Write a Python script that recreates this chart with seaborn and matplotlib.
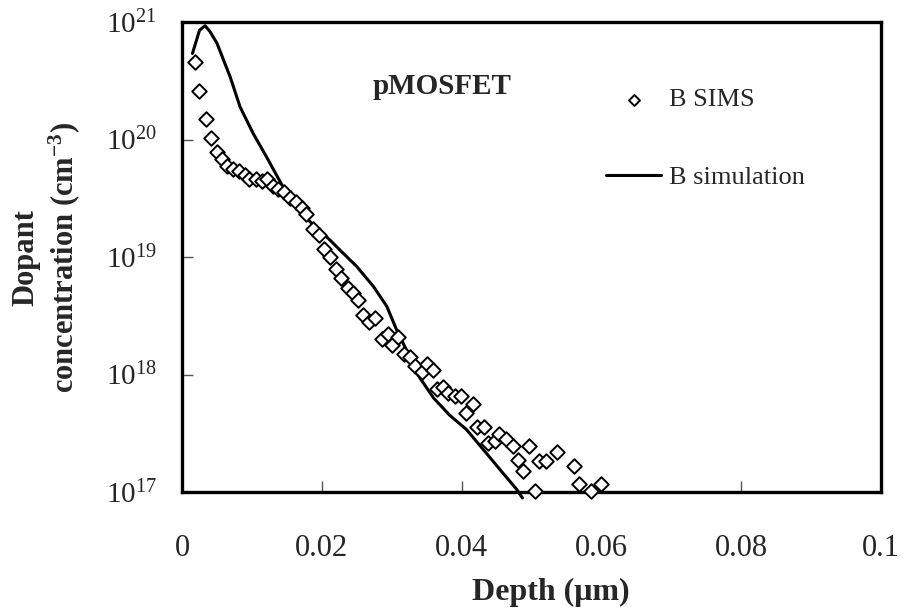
import matplotlib
matplotlib.use("Agg")
import matplotlib.pyplot as plt
import seaborn as sns
import pandas as pd
from matplotlib.ticker import FixedLocator, FixedFormatter

# ---- data ----
sims_depth = [0.0018, 0.0025, 0.0034, 0.0041, 0.0050, 0.0057, 0.0065, 0.0073, 0.0081, 0.0090,
              0.0096, 0.0106, 0.0114, 0.0122, 0.0130, 0.0138, 0.0146, 0.0155, 0.0163, 0.0171,
              0.0178, 0.0187, 0.0196, 0.0203, 0.0212, 0.0220, 0.0228, 0.0237, 0.0245, 0.0252,
              0.0259, 0.0267, 0.0276, 0.0286, 0.0294, 0.0301, 0.0309, 0.0317, 0.0326, 0.0333,
              0.0343, 0.0351, 0.0359, 0.0365, 0.0374, 0.0381, 0.0391, 0.0399, 0.0406, 0.0416,
              0.0422, 0.0432, 0.0438, 0.0448, 0.0454, 0.0464, 0.0473, 0.0481, 0.0488, 0.0497,
              0.0505, 0.0511, 0.0521, 0.0537, 0.0561, 0.0568, 0.0585, 0.0600]
sims_conc = [4.6e20, 2.6e20, 1.5e20, 1.02e20, 7.9e19, 6.8e19, 6.0e19, 5.6e19, 5.4e19, 5.0e19,
             4.6e19, 4.6e19, 4.4e19, 4.6e19, 4.0e19, 3.8e19, 3.6e19, 3.2e19, 2.95e19, 2.6e19,
             2.3e19, 1.74e19, 1.55e19, 1.17e19, 1.0e19, 7.9e18, 6.6e18, 5.5e18, 4.9e18, 4.3e18,
             3.2e18, 2.8e18, 3.0e18, 2.0e18, 2.2e18, 1.78e18, 2.1e18, 1.48e18, 1.41e18, 1.17e18,
             1.05e18, 1.23e18, 1.10e18, 7.6e17, 7.8e17, 6.9e17, 6.5e17, 6.5e17, 4.7e17, 5.6e17,
             3.6e17, 3.6e17, 2.6e17, 2.7e17, 3.1e17, 2.8e17, 2.45e17, 1.86e17, 1.51e17, 2.45e17,
             1.02e17, 1.82e17, 1.82e17, 2.2e17, 1.66e17, 1.17e17, 1.02e17, 1.17e17]

sim_depth = [0.0015, 0.0025, 0.0033, 0.0040, 0.0050, 0.0069, 0.0083, 0.0102, 0.0121, 0.0143,
             0.0164, 0.0183, 0.0202, 0.0214, 0.0231, 0.0250, 0.0274, 0.0293, 0.0307, 0.0321,
             0.0336, 0.0360, 0.0383, 0.0407, 0.0431, 0.0455, 0.0479, 0.0487]
sim_conc = [5.4e20, 8.5e20, 9.3e20, 8.3e20, 6.6e20, 3.4e20, 1.9e20, 1.12e20, 7.1e19, 4.1e19,
            2.9e19, 2.0e19, 1.58e19, 1.35e19, 1.07e19, 8.3e18, 5.6e18, 3.8e18, 2.4e18, 1.62e18,
            1.02e18, 6.3e17, 4.5e17, 3.4e17, 2.3e17, 1.55e17, 1.05e17, 8.9e16]

x_ticks = [0, 0.02, 0.04, 0.06, 0.08, 0.1]
x_tick_labels = ["0", "0.02", "0.04", "0.06", "0.08", "0.1"]
y_ticks = [1e17, 1e18, 1e19, 1e20, 1e21]
y_tick_labels = [r"$\mathregular{10^{17}}$", r"$\mathregular{10^{18}}$", r"$\mathregular{10^{19}}$",
                 r"$\mathregular{10^{20}}$", r"$\mathregular{10^{21}}$"]

sims_df = pd.DataFrame({"depth": sims_depth, "conc": sims_conc})
sim_df = pd.DataFrame({"depth": sim_depth, "conc": sim_conc})

sns.set_style("ticks")
plt.rcParams["font.family"] = ["Liberation Serif", "DejaVu Serif"]
plt.rcParams["mathtext.fontset"] = "custom"
plt.rcParams["mathtext.rm"] = "Liberation Serif"
plt.rcParams["mathtext.it"] = "Liberation Serif:italic"
plt.rcParams["mathtext.bf"] = "Liberation Serif:bold"

fig = plt.figure(figsize=(9.09, 6.12), dpi=100)
ax = fig.add_axes([182 / 909, 1 - 492 / 612, (881 - 182) / 909, (492 - 22) / 612])

sns.lineplot(data=sim_df, x="depth", y="conc", ax=ax, color="black", linewidth=2.2,
             label="B simulation", clip_on=False, zorder=3)
sns.scatterplot(data=sims_df, x="depth", y="conc", ax=ax, marker="D", s=55,
                facecolor="white", edgecolor="black", linewidth=1.4,
                label="B SIMS", clip_on=False, zorder=4)

ax.set_yscale("log")
ax.set_xlim(0, 0.1)
ax.set_ylim(1e17, 1e21)
ax.xaxis.set_major_locator(FixedLocator(x_ticks))
ax.xaxis.set_major_formatter(FixedFormatter(x_tick_labels))
ax.yaxis.set_major_locator(FixedLocator(y_ticks))
ax.yaxis.set_major_formatter(FixedFormatter(y_tick_labels))
ax.yaxis.set_minor_locator(FixedLocator([]))
ax.tick_params(axis="both", which="major", direction="in", length=8, width=1.0,
               color="#555555", bottom=True, left=True, top=False, right=False)
ax.tick_params(axis="x", pad=30, labelsize=22)
ax.tick_params(axis="y", pad=18, labelsize=21)
ax.tick_params(which="minor", length=0)

for sp in ax.spines.values():
    sp.set_visible(True)
    sp.set_color("black")
    sp.set_linewidth(2.4)

ax.set_xlabel("Depth (\u03bcm)", fontsize=23, fontweight="bold")
ax.xaxis.set_label_coords(0.528, -0.183)
ax.set_ylabel("Dopant\nconcentration (cm$^{\\mathregular{-3}}$)", fontsize=22,
              fontweight="bold", linespacing=1.2)
ax.yaxis.set_label_coords(-0.143, 0.5)

ax.text(442 / 909, 1 - 86 / 612, "pMOSFET", transform=fig.transFigure, fontsize=21,
        fontweight="bold", ha="center", va="center")

h, l = ax.get_legend_handles_labels()
order = [l.index("B SIMS"), l.index("B simulation")]
leg = ax.legend([h[i] for i in order], [l[i] for i in order],
                loc="upper left", bbox_to_anchor=(606 / 909, 1 - 88 / 612),
                bbox_transform=fig.transFigure, frameon=False, fontsize=19,
                handlelength=2.1, handletextpad=0.3, labelspacing=2.05,
                borderpad=0, borderaxespad=0, markerscale=0.75)

fig.savefig("out.png", dpi=100)
